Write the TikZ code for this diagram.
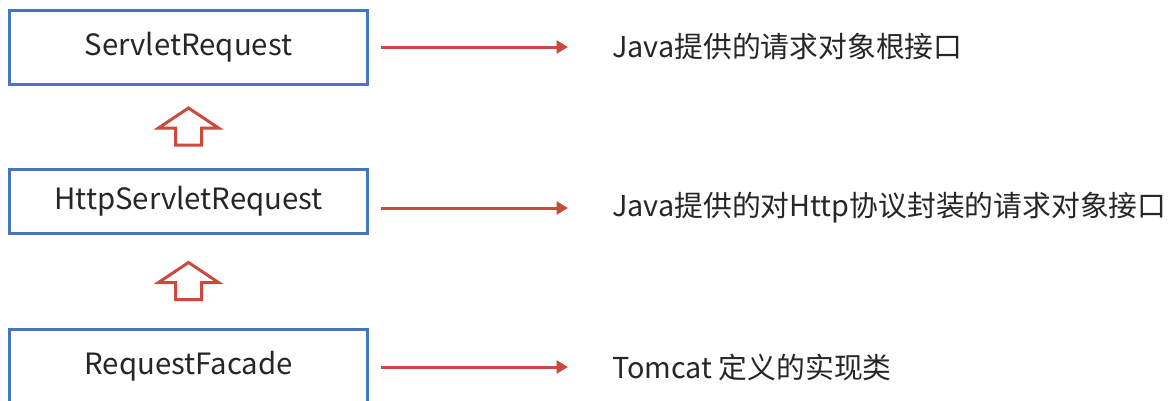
\documentclass[tikz,border=0pt]{standalone}
\usepackage{fontspec}
\setmainfont{Noto Sans CJK SC}
\usetikzlibrary{arrows.meta,calc}

\definecolor{boxblue}{RGB}{68,118,196}
\definecolor{linkred}{RGB}{203,74,60}
\definecolor{txtgray}{RGB}{38,38,38}

\begin{document}
\begin{tikzpicture}[x=0.75pt,y=-0.75pt,
    cls/.style={draw=boxblue,line width=2.25pt,minimum width=269pt,text=txtgray,font=\fontsize{22}{26}\selectfont},
    desc/.style={anchor=west,inner sep=0pt,text=txtgray,font=\fontsize{21.6}{26}\selectfont},
    link/.style={draw=linkred,line width=2.25pt,-{Triangle[length=8.5pt,width=9.5pt]},shorten <=9pt,shorten >=33pt},
    inherit/.pic={\draw[linkred,line width=2.25pt,miter limit=10] (0,-18.5) -- (30,1.5) -- (13,1.5) -- (13,18.5) -- (-13,18.5) -- (-13,1.5) -- (-30,1.5) -- cycle;}]
  \fill[white] (0,0) rectangle (1173,400);
  \useasboundingbox (0,0) rectangle (1173,400);
  % class boxes
  \node[cls,minimum height=55.5pt] (sreq) at (188.5,47) {ServletRequest};
  \node[cls,minimum height=48pt] (hreq) at (188.5,201) {HttpServletRequest};
  \node[cls,minimum height=55.5pt] (facade) at (188.5,366) {RequestFacade};
  % descriptions
  \node[desc] (sreqtxt) at (612,47) {Java提供的请求对象根接口};
  \node[desc] (hreqtxt) at (612,208) {Java提供的对Http协议封装的请求对象接口};
  \node[desc] (facadetxt) at (612,367) {Tomcat 定义的实现类};
  \draw[link] (sreq.east |- sreqtxt.west) -- (sreqtxt.west);
  \draw[link] (hreq.east |- hreqtxt.west) -- (hreqtxt.west);
  \draw[link] (facade.east |- facadetxt.west) -- (facadetxt.west);
  % inheritance
  \pic (up1) at ($(sreq.south)!0.5!(hreq.north)$) {inherit};
  \pic (up2) at ($(hreq.south)!0.5!(facade.north)$) {inherit};
\end{tikzpicture}
\end{document}
